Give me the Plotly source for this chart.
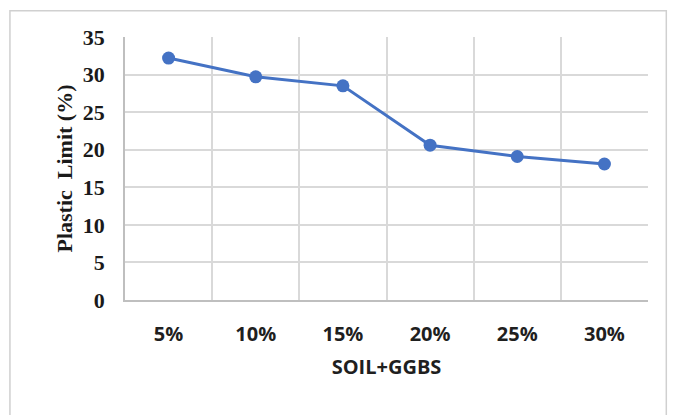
import plotly.graph_objects as go

categories = ["5%", "10%", "15%", "20%", "25%", "30%"]
plastic_limit = [32.2, 29.7, 28.5, 20.6, 19.1, 18.1]
y_ticks = [0, 5, 10, 15, 20, 25, 30, 35]

xpos = list(range(len(categories)))

fig = go.Figure()
fig.add_trace(go.Scatter(
    x=xpos, y=plastic_limit, mode="lines+markers",
    line=dict(color="#4472C4", width=3),
    marker=dict(color="#4472C4", size=13),
    showlegend=False, hoverinfo="skip",
))

grid = "#d9d9d9"
sans = "Open Sans, Liberation Sans, Arial"
serif = "Liberation Serif, Times New Roman"
fig.update_layout(
    width=676, height=415,
    margin=dict(l=125, r=28, t=37, b=115),
    paper_bgcolor="white", plot_bgcolor="white",
    xaxis=dict(
        range=[-0.5, len(categories) - 0.5],
        tickmode="array", tickvals=xpos, ticktext=[f"<b>{c}</b>" for c in categories],
        showgrid=False, zeroline=False,
        ticks="outside", ticklen=15, tickcolor="rgba(0,0,0,0)",
        tickfont=dict(family=sans, size=20, color="#1f1f1f"),
        minor=dict(tickmode="array", tickvals=[i - 0.5 for i in range(len(categories) + 1)],
                   showgrid=True, gridcolor=grid, gridwidth=1.5, ticks=""),
        showline=True, linecolor="#bfbfbf", linewidth=1.5,
        title=dict(text="<b>SOIL+GGBS</b>", standoff=14,
                   font=dict(family=sans, size=20, color="#1f1f1f")),
        fixedrange=True,
    ),
    yaxis=dict(
        range=[0, 35], tickmode="array", tickvals=y_ticks,
        ticktext=[f"<b>{v}</b>" for v in y_ticks],
        showgrid=True, gridcolor=grid, gridwidth=1.5,
        zeroline=False,
        showline=True, linecolor="#bfbfbf", linewidth=1.5,
        ticks="outside", ticklen=14, tickcolor="rgba(0,0,0,0)",
        tickfont=dict(family=serif, size=22, color="#1a1a1a"),
        title=dict(text="<b>Plastic  Limit (%)</b>", standoff=4,
                   font=dict(family=serif, size=22, color="#1a1a1a")),
        fixedrange=True,
    ),
    shapes=[dict(type="rect", xref="paper", yref="paper",
                 x0=-0.22, x1=1.035, y0=-0.45, y1=1.1,
                 line=dict(color="#d0d0d0", width=1.5), fillcolor="rgba(0,0,0,0)", layer="below")],
)

fig.write_html("out.html")
